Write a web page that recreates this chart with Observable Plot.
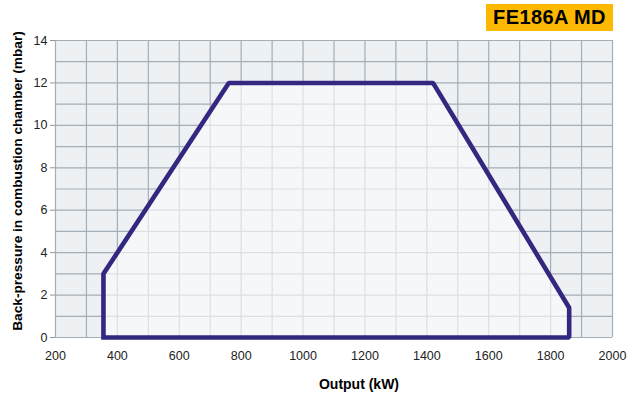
<!DOCTYPE html>
<html><head><meta charset="utf-8">
<script src="https://cdn.jsdelivr.net/npm/d3@7"></script>
<script src="https://cdn.jsdelivr.net/npm/@observablehq/plot@0.6"></script>
<style>
body{margin:0;background:#fff;font-family:"Liberation Sans",Arial,sans-serif;}
#wrap{position:relative;width:633px;height:401px;}
#badge{position:absolute;left:486px;top:4px;width:127px;height:27px;background:#fcb900;color:#000;font:bold 20px "Liberation Sans",Arial,sans-serif;letter-spacing:0.4px;line-height:27px;text-align:center;}
</style></head>
<body><div id="wrap"><div id="badge">FE186A MD</div></div>
<script>
const title = "FE186A MD";
const xLabel = "Output (kW)";
const yLabel = "Back-pressure in combustion chamber (mbar)";
const xTicks = [200, 400, 600, 800, 1000, 1200, 1400, 1600, 1800, 2000];
const yTicks = [0, 2, 4, 6, 8, 10, 12, 14];
const xGrid = d3.range(200, 2001, 100);
const yGrid = d3.range(0, 15, 1);
const outputKW = [355, 355, 760, 1420, 1860, 1860, 355];
const pressure = [0, 3, 12, 12, 1.4, 0, 0];

const pts = outputKW.map((x, i) => ({x, y: pressure[i]}));
const dark = "#a4aeb6", light = "#dcdfe3";

const plot = Plot.plot({
  width: 633, height: 401,
  marginLeft: 55, marginRight: 21, marginTop: 40, marginBottom: 64,
  style: {fontFamily: '"Liberation Sans", Arial, sans-serif', fontSize: "12.5px", color: "#222", background: "transparent"},
  x: {domain: [200, 2000], ticks: xTicks, tickFormat: d => String(d)},
  y: {domain: [0, 14], ticks: yTicks},
  marks: [
    Plot.frame({fill: "#edf1f4", stroke: "none"}),
    Plot.ruleX(xGrid, {stroke: dark, strokeWidth: 1.2}),
    Plot.ruleY(yGrid, {stroke: dark, strokeWidth: 1.2}),
    Plot.line(pts, {x: "x", y: "y", fill: "#f6f7f9", stroke: "none"}),
    Plot.ruleX(xGrid, {stroke: light, strokeWidth: 1.2}),
    Plot.ruleY(yGrid, {stroke: light, strokeWidth: 1.2}),
    Plot.line(pts, {x: "x", y: "y", stroke: "#33287f", strokeWidth: 4.6, strokeLinejoin: "miter", strokeLinecap: "square"}),
    Plot.axisX({ticks: xTicks, tickSize: 0, tickPadding: 14, label: null, tickFormat: d => String(d)}),
    Plot.axisY({ticks: yTicks, tickSize: 5, tickPadding: 3, label: null, stroke: "#8d969d"}),
    Plot.text([yLabel], {frameAnchor: "left", textAnchor: "middle", rotate: -90, dx: -38, dy: -8, fontWeight: "bold", fontSize: 13.7, fill: "#000"}),
    Plot.text([xLabel], {frameAnchor: "bottom", dx: 25, dy: 51, fontWeight: "bold", fontSize: 14, fill: "#000"})
  ]
});

// clip the light grid to the polygon interior
const svg = d3.select(plot);
const lineGroups = plot.querySelectorAll("g[aria-label='line']");
const polyPath = lineGroups[0].querySelector("path");
const defs = svg.insert("defs", ":first-child");
defs.append("clipPath").attr("id", "inside").append("path")
  .attr("d", polyPath.getAttribute("d"))
  .attr("transform", lineGroups[0].getAttribute("transform") || null);
const ruleGroups = plot.querySelectorAll("g[aria-label='rule']");
[ruleGroups[2], ruleGroups[3]].forEach(g => {
  const wrapper = document.createElementNS("http://www.w3.org/2000/svg", "g");
  wrapper.setAttribute("clip-path", "url(#inside)");
  g.parentNode.insertBefore(wrapper, g);
  wrapper.appendChild(g);
});
document.getElementById("wrap").prepend(plot);
</script>
</body></html>
